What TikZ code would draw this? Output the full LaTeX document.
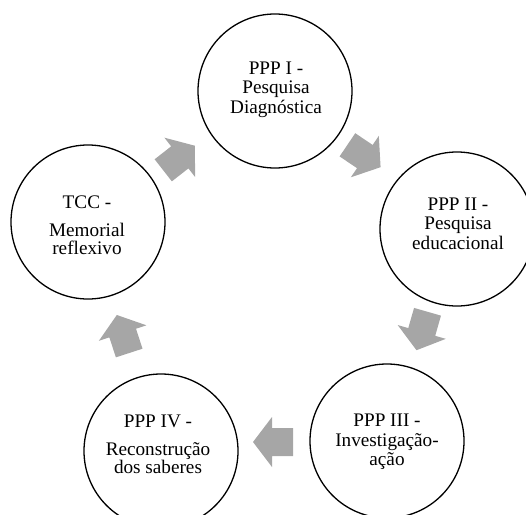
\documentclass[tikz,border=0pt]{standalone}
\usepackage{fontspec}
\setmainfont{Liberation Serif}
\definecolor{arrowgray}{RGB}{166,166,166}
\tikzset{
  ring/.style={circle,draw=black,line width=1.3pt,minimum size=154pt,inner sep=0pt},
  lbl/.style={align=center,anchor=north,inner sep=0pt,font=\fontsize{19.2}{19.2}\selectfont},
  blockarrow/.pic={\fill[arrowgray] (-20,-14) -- (1,-14) -- (1,-25) -- (20,0) -- (1,25) -- (1,14) -- (-20,14) -- cycle;}
}
\begin{document}
\begin{tikzpicture}[x=1pt,y=-1pt]
\useasboundingbox (0,0) rectangle (526,514);
\clip (0,0) rectangle (526,514);
% circles
\node[ring] (c1) at (275,91) {};
\node[ring] (c2) at (457,229) {};
\node[ring] (c3) at (387,441) {};
\node[ring] (c4) at (161,451) {};
\node[ring] (c5) at (88,222) {};
% labels
\node[lbl] (t1) at (276,62) {PPP I -\\Pesquisa\\Diagnóstica};
\node[lbl] (t2) at (458,198) {PPP II -\\Pesquisa\\educacional};
\node[lbl,font=\fontsize{19.2}{19.5}\selectfont] (t3) at (387,414) {PPP III -\\Investigação-\\ação};
\node[lbl,font=\fontsize{19.2}{18.5}\selectfont] (t4) at (158,415) {PPP IV -\\[9pt]Reconstrução\\dos saberes};
\node[lbl,font=\fontsize{19.2}{18.5}\selectfont] (t5) at (87,196) {TCC -\\[9pt]Memorial\\reflexivo};
% block arrows
\pic (a1) [rotate=38] at (179,158) {blockarrow};
\pic (a2) [rotate=-34] at (364,156) {blockarrow};
\pic (a3) [rotate=-106] at (422,331) {blockarrow};
\pic (a4) [rotate=180] at (273,442) {blockarrow};
\pic (a5) [rotate=108] at (123,334) {blockarrow};
\end{tikzpicture}
\end{document}
